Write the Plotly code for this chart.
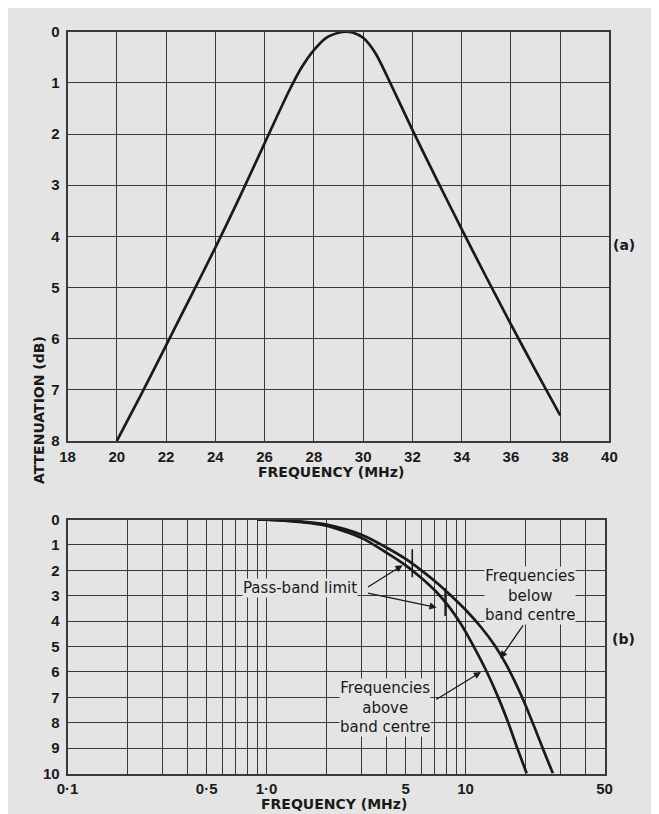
import numpy as np
import plotly.graph_objects as go

# ---------------- data ----------------
# (a) band-pass response
freq_a = [20, 21, 22, 23, 24, 25, 26, 27, 27.5, 28, 28.5, 29, 29.3, 29.6, 30, 30.5, 31, 32, 33, 34, 35, 36, 37, 38]
att_a = [8.0, 7.08, 6.13, 5.18, 4.22, 3.22, 2.18, 1.15, 0.7, 0.36, 0.12, 0.02, 0.0, 0.02, 0.12, 0.42, 0.9, 1.92, 2.9, 3.86, 4.8, 5.72, 6.62, 7.5]

# (b) normalised responses (log frequency)
freq_below = [0.9, 1.0, 1.5, 2.0, 3.0, 4.0, 5.0, 6.0, 7.0, 8.0, 10, 12, 14, 16, 18, 20, 22, 25, 27.5]
att_below = [0.0, 0.0, 0.08, 0.2, 0.6, 1.1, 1.55, 2.0, 2.42, 2.82, 3.55, 4.25, 4.95, 5.7, 6.5, 7.3, 8.1, 9.2, 10]
freq_above = [0.9, 1.0, 1.5, 2.0, 3.0, 4.0, 5.0, 6.0, 7.2, 8.2, 9.48, 11.0, 12.8, 14.6, 16.4, 18.2, 20.3]
att_above = [0.0, 0.0, 0.1, 0.24, 0.72, 1.3, 1.8, 2.3, 2.88, 3.4, 4.11, 5, 6, 7, 8, 9, 10]

passband_freq = [5.4, 7.9]
passband_att = [1.72, 3.25]

ticks_a_x = list(range(18, 41, 2))
ticks_a_y = list(range(0, 9))
ticks_b_y = list(range(0, 11))
ticks_b_x = [0.1, 0.2, 0.3, 0.4, 0.5, 0.6, 0.7, 0.8, 0.9,
             1, 2, 3, 4, 5, 6, 7, 8, 9, 10, 20, 30, 40, 50]
labels_b_x = ['0·1', '', '', '', '0·5', '', '', '', '', '1·0', '', '', '', '5',
              '', '', '', '', '10', '', '', '', '50']

# ---------------- style ----------------
BG = '#e4e4e4'
GRID = '#3a3a3a'
INK = '#1a1a1a'
TICKFONT = dict(family='Liberation Sans', size=15, color=INK, weight='bold')
TITLEFONT = dict(family='DejaVu Sans', size=14, color=INK, weight='bold')
NOTEFONT = dict(family='DejaVu Sans', size=15, color=INK)

W, H = 659, 814

fig = go.Figure()
line_style = dict(color=INK, width=2.7, shape='spline', smoothing=0.8)
fig.add_trace(go.Scatter(x=freq_a, y=att_a, mode='lines', line=line_style,
                         xaxis='x', yaxis='y', showlegend=False, hoverinfo='skip'))
fig.add_trace(go.Scatter(x=freq_below, y=att_below, mode='lines', line=line_style,
                         xaxis='x2', yaxis='y2', showlegend=False, hoverinfo='skip'))
fig.add_trace(go.Scatter(x=freq_above, y=att_above, mode='lines', line=line_style,
                         xaxis='x2', yaxis='y2', showlegend=False, hoverinfo='skip'))
fig.add_trace(go.Scatter(x=passband_freq, y=passband_att, mode='markers',
                         marker=dict(symbol='line-ns', size=20, line=dict(color=INK, width=1.6)),
                         xaxis='x2', yaxis='y2', showlegend=False, hoverinfo='skip'))

axis_common = dict(showgrid=True, gridcolor=GRID, gridwidth=1.4, showline=True, linecolor=GRID,
                   linewidth=1.8, mirror=True, zeroline=False, ticks='', tickfont=TICKFONT)

fig.update_layout(
    width=W, height=H,
    margin=dict(l=0, r=0, t=0, b=0),
    paper_bgcolor=BG, plot_bgcolor=BG,
    xaxis=dict(domain=[50 / W, 608 / W], range=[18, 40], tickmode='array', tickvals=ticks_a_x,
               anchor='y', ticklabelstandoff=1, **axis_common),
    yaxis=dict(domain=[1 - 433 / H, 1 - 15 / H], range=[8, 0], tickmode='array', tickvals=ticks_a_y,
               anchor='x', ticklabelstandoff=3, **axis_common),
    xaxis2=dict(domain=[50 / W, 603 / W], type='log', range=[-1, np.log10(50)], tickmode='array',
                tickvals=ticks_b_x, ticktext=labels_b_x, anchor='y2', ticklabelstandoff=1, **axis_common),
    yaxis2=dict(domain=[1 - 772.7 / H, 1 - 513.3 / H], range=[10, 0], tickmode='array', tickvals=ticks_b_y,
                anchor='x2', ticklabelstandoff=3, **axis_common),
)

L = np.log10
ann = []
# axis titles
ann.append(dict(text='FREQUENCY (MHz)', x=321 / W, y=1 - 465 / H, xref='paper', yref='paper',
                showarrow=False, font=TITLEFONT, xanchor='center', yanchor='middle'))
ann.append(dict(text='FREQUENCY (MHz)', x=324 / W, y=1 - 804 / H, xref='paper', yref='paper',
                showarrow=False, font=TITLEFONT, xanchor='center', yanchor='middle'))
ann.append(dict(text='ATTENUATION (dB)', x=20 / W, y=1 - 401 / H, xref='paper', yref='paper',
                showarrow=False, font=TITLEFONT, textangle=-90, xanchor='center', yanchor='middle'))
ann.append(dict(text='(a)', x=636 / W, y=1 - 223 / H, xref='paper', yref='paper',
                showarrow=False, font=TITLEFONT))
ann.append(dict(text='(b)', x=636 / W, y=1 - 645 / H, xref='paper', yref='paper',
                showarrow=False, font=TITLEFONT))

# arrows (b)
arrow = dict(showarrow=True, arrowhead=2, arrowsize=1.1, arrowwidth=1.3, arrowcolor=INK,
             xref='x2', yref='y2', axref='x2', ayref='y2', text='')
ann.append(dict(x=L(4.83), y=1.8, ax=L(3.18), ay=2.69, **arrow))
ann.append(dict(x=L(7.16), y=3.46, ax=L(3.18), ay=2.88, **arrow))
ann.append(dict(x=L(14.96), y=5.46, ax=L(19.7), ay=4.11, **arrow))
ann.append(dict(x=L(11.96), y=6.0, ax=L(7.0), ay=7.12, **arrow))

# text boxes (b)
ann.append(dict(text='Pass-band limit', x=L(1.48), y=2.69, xref='x2', yref='y2', showarrow=False,
                font=NOTEFONT, bgcolor=BG, borderpad=0))
ann.append(dict(text='Frequencies<br>below<br>band centre', x=L(21.0), y=3.0, xref='x2', yref='y2',
                showarrow=False, font=NOTEFONT, bgcolor=BG, borderpad=0, align='center'))
ann.append(dict(text='Frequencies<br>above<br>band centre', x=L(3.94), y=7.39, xref='x2', yref='y2',
                showarrow=False, font=NOTEFONT, bgcolor=BG, borderpad=0, align='center'))

fig.update_layout(annotations=ann)
fig.write_html('out.html')
